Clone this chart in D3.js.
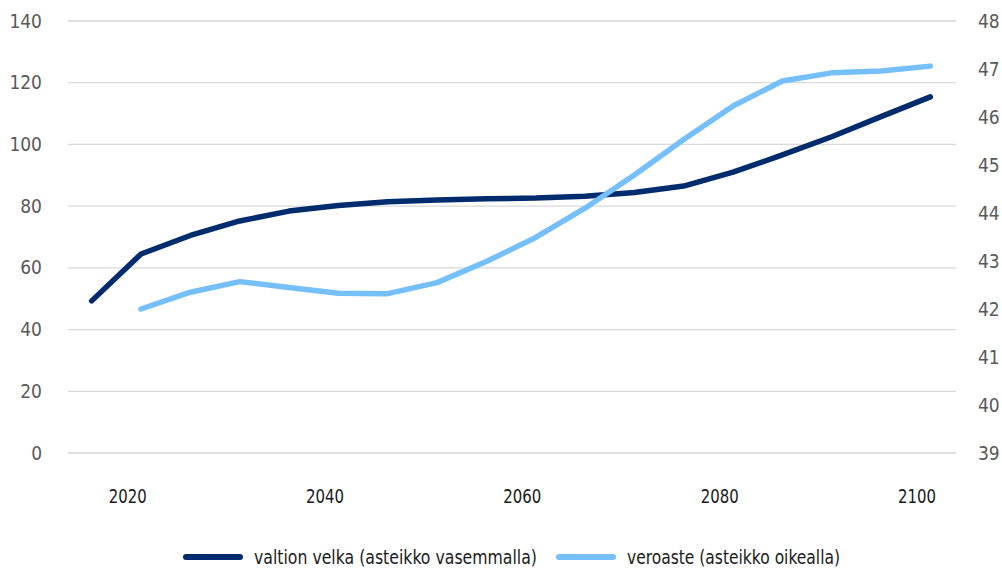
<!DOCTYPE html>
<html>
<head>
<meta charset="utf-8">
<script src="https://cdn.jsdelivr.net/npm/d3@7"></script>
<style>
  body { margin: 0; background: #fff; }
  svg text { font-family: "Liberation Sans Narrow", "DejaVu Sans Condensed", "Roboto", sans-serif; font-stretch: condensed; }
</style>
</head>
<body>
<div id="chart"></div>
<script>
// === DATA ===
const years = [2016, 2021, 2026, 2031, 2036, 2041, 2046, 2051, 2056, 2061, 2066, 2071, 2076, 2081, 2086, 2091, 2096, 2101];
const velka = [49.3, 64.5, 70.5, 75.2, 78.4, 80.2, 81.4, 82.0, 82.4, 82.6, 83.2, 84.4, 86.5, 91.0, 96.6, 102.5, 109.0, 115.4];
const veroaste = [null, 42.0, 42.35, 42.57, 42.45, 42.33, 42.32, 42.55, 42.99, 43.49, 44.1, 44.79, 45.53, 46.23, 46.75, 46.92, 46.96, 47.06];
const xTicks = [2020, 2040, 2060, 2080, 2100];
const leftTicks = [0, 20, 40, 60, 80, 100, 120, 140];
const rightTicks = [39, 40, 41, 42, 43, 44, 45, 46, 47, 48];
const legendLabels = ["valtion velka (asteikko vasemmalla)", "veroaste (asteikko oikealla)"];
const colors = ["#002b6d", "#74bffc"];

// === CHART ===
const width = 1002, height = 568;
const plot = { left: 68, right: 956, top: 21, bottom: 453 };

const svg = d3.select("#chart").append("svg")
    .attr("width", width)
    .attr("height", height);

const x = d3.scaleLinear().domain([2013.6, 2103.6]).range([plot.left, plot.right]);
const yLeft = d3.scaleLinear().domain([0, 140]).range([plot.bottom, plot.top]);
const yRight = d3.scaleLinear().domain([39, 48]).range([plot.bottom, plot.top]);

// gridlines
svg.append("g")
    .selectAll("line")
    .data(leftTicks)
    .enter().append("line")
    .attr("x1", plot.left).attr("x2", plot.right)
    .attr("y1", d => yLeft(d)).attr("y2", d => yLeft(d))
    .attr("stroke", "#d9d9d9")
    .attr("stroke-width", 1.3);

// left axis
const leftAxis = svg.append("g")
    .attr("transform", `translate(${plot.left - 26},0)`)
    .call(d3.axisLeft(yLeft).tickValues(leftTicks).tickSize(0).tickPadding(0));
leftAxis.select(".domain").remove();
leftAxis.selectAll("text")
    .attr("font-size", 19).attr("fill", "#595959");

// right axis
const rightAxis = svg.append("g")
    .attr("transform", `translate(${plot.right + 22},0)`)
    .call(d3.axisRight(yRight).tickValues(rightTicks).tickSize(0).tickPadding(0));
rightAxis.select(".domain").remove();
rightAxis.selectAll("text")
    .attr("font-size", 19).attr("fill", "#595959");

// bottom axis
const bottomAxis = svg.append("g")
    .attr("transform", `translate(-4,${plot.bottom + 36})`)
    .call(d3.axisBottom(x).tickValues(xTicks).tickFormat(d3.format("d")).tickSize(0).tickPadding(0));
bottomAxis.select(".domain").remove();
bottomAxis.selectAll("text")
    .attr("font-size", 19).attr("fill", "#1a1a1a")
    .attr("textLength", 38).attr("lengthAdjust", "spacingAndGlyphs");

// lines
const lineLeft = d3.line()
    .defined(d => d[1] != null)
    .x(d => x(d[0]))
    .y(d => yLeft(d[1]));
const lineRight = d3.line()
    .defined(d => d[1] != null)
    .x(d => x(d[0]))
    .y(d => yRight(d[1]));

svg.append("path")
    .datum(years.map((yr, i) => [yr, velka[i]]))
    .attr("d", lineLeft)
    .attr("fill", "none")
    .attr("stroke", colors[0])
    .attr("stroke-width", 5.5)
    .attr("stroke-linecap", "round")
    .attr("stroke-linejoin", "round");

svg.append("path")
    .datum(years.map((yr, i) => [yr, veroaste[i]]))
    .attr("d", lineRight)
    .attr("fill", "none")
    .attr("stroke", colors[1])
    .attr("stroke-width", 5.5)
    .attr("stroke-linecap", "round")
    .attr("stroke-linejoin", "round");

// legend
const legendX = [186, 559];
const legendWidths = [283, 213];
const legend = svg.append("g");
legendLabels.forEach((label, i) => {
    legend.append("line")
        .attr("x1", legendX[i]).attr("x2", legendX[i] + 54)
        .attr("y1", 557).attr("y2", 557)
        .attr("stroke", colors[i])
        .attr("stroke-width", 6)
        .attr("stroke-linecap", "round");
    legend.append("text")
        .attr("x", legendX[i] + 68)
        .attr("y", 557)
        .attr("dy", "0.35em")
        .attr("font-size", 19)
        .attr("fill", "#1a1a1a")
        .attr("textLength", legendWidths[i])
        .attr("lengthAdjust", "spacingAndGlyphs")
        .text(label);
});
</script>
</body>
</html>
